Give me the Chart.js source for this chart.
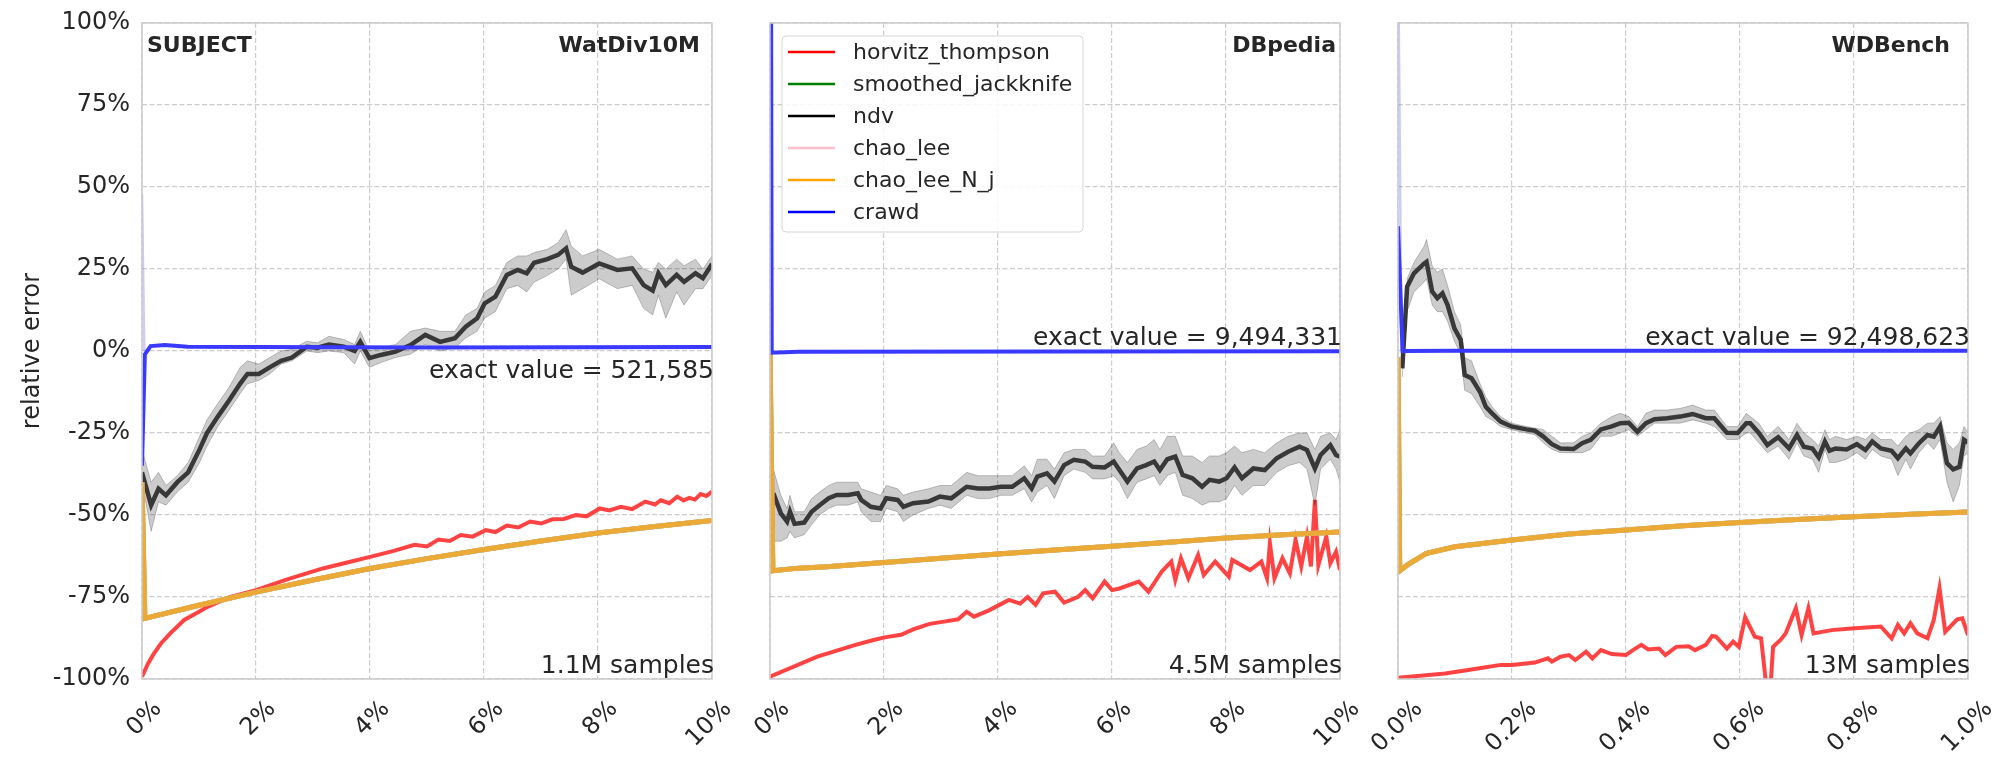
<!DOCTYPE html>
<html>
<head>
<meta charset="utf-8">
<script src="https://cdn.jsdelivr.net/npm/chart.js@4.4.1/dist/chart.umd.min.js"></script>
<style>
  html, body { margin: 0; padding: 0; background: #fff; }
  #wrap { position: relative; width: 2010px; height: 780px; }
  #wrap canvas { position: absolute; left: 0; top: 0; }
</style>
</head>
<body>
<div id="wrap">
  <canvas id="c1" width="2010" height="780"></canvas>
  <canvas id="c2" width="2010" height="780"></canvas>
  <canvas id="c3" width="2010" height="780"></canvas>
</div>
<script>
'use strict';

/* ---- series names (legend order) ---- */
const seriesNames = ['horvitz_thompson', 'smoothed_jackknife', 'ndv', 'chao_lee', 'chao_lee_N_j', 'crawd'];
const legendColors = ['#ff0000', '#008000', '#000000', '#ffc0cb', '#ffa500', '#0000ff'];

/* ---- y axis ---- */
const yTicks = [-100, -75, -50, -25, 0, 25, 50, 75, 100];

/* ---- panel 1: WatDiv10M (x in % of sample) ---- */
const w1NdvX = [0,0.16,0.29,0.42,0.62,0.81,1.01,1.14,1.33,1.53,1.72,1.85,2.05,2.24,2.44,2.63,2.89,3.08,3.28,3.54,3.73,3.83,3.99,4.19,4.45,4.71,4.97,5.23,5.49,5.68,5.88,6.01,6.2,6.4,6.59,6.75,6.88,7.11,7.3,7.44,7.53,7.73,8.02,8.34,8.6,8.8,8.96,9.06,9.19,9.38,9.51,9.71,9.84,10];
const w1Ndv   = [-37,-47,-42,-44,-40,-37,-30,-25,-20,-15,-10,-7,-7,-5,-3,-2,1.3,1,2,1.3,0,2.8,-2.2,-1.2,-0.2,1.8,4.9,2.8,3.9,7.4,10,14.5,16.6,23.2,24.7,23.7,26.9,28,29.3,31.3,25.7,23.9,26.7,24.7,25.2,20.1,18.4,23.7,20.1,23.2,21.1,23.7,22.2,26.5];
const w1NdvLo = [-40,-55,-46,-47,-43,-40,-34,-29,-23,-18,-13,-10,-9,-7,-4,-3,0,-0.5,0,-0.5,-4,0,-5,-3.5,-2,-1,2,0,1,4,6,10,12,19,20,18,21,23,25,28,17,19,22,19,20,13,11,17,10,18,14,19,19,23];
const w1NdvHi = [-30,-40,-37,-41,-38,-34,-26,-21,-16,-11,-5,-3,-4,-2,0,0.5,3,2.5,4.5,3.5,2,6,0,1,2,6,7,6,6,11,13,18,20,27,29,29,30,31,33,37,32,29,31,28,29,25,24,27,25,28,26,28,25,29];
const w1HtX = [0,0.1,0.2,0.34,0.5,0.74,1.0,1.15,1.55,2.0,2.52,3.17,3.6,4.02,4.4,4.78,5.0,5.2,5.4,5.59,5.8,6.03,6.2,6.4,6.6,6.81,7.0,7.2,7.4,7.61,7.8,8.03,8.2,8.4,8.6,8.83,9.0,9.1,9.25,9.39,9.5,9.6,9.7,9.8,9.9,10];
const w1Ht  = [-99.3,-95.5,-92.5,-89,-86,-82,-79.5,-78,-75,-72.9,-69.8,-66.3,-64.5,-62.7,-61,-59.1,-59.6,-57.5,-57.9,-56.1,-56.6,-54.6,-55.2,-53.2,-53.8,-52,-52.6,-51.3,-51.2,-50,-50.4,-48,-48.6,-47.5,-48.2,-45.9,-46.8,-45.5,-46.4,-44.4,-45.6,-44.8,-45.3,-43.6,-44.2,-42.9];
const w1ClX = [0,0.05,1,2,3,4,5,6,7,8,9,10];
const w1Cl  = [-40,-81.5,-77.5,-73.5,-69.8,-66.3,-63.3,-60.5,-57.9,-55.5,-53.5,-51.7];
const w1CrX = [0,0.05,0.15,0.4,0.8,2,5,10];
const w1Cr  = [-35,-1,1.5,1.8,1.3,1.2,1.1,1.2];
const w1CrBandX = [0,0.04];
const w1CrBand  = [48,0];

/* ---- panel 2: DBpedia ---- */
const d2NdvX = [0.06,0.19,0.3,0.35,0.43,0.6,0.73,0.87,1.03,1.17,1.37,1.54,1.6,1.77,1.94,2.04,2.24,2.34,2.51,2.78,2.98,3.18,3.45,3.65,3.85,4.05,4.25,4.46,4.59,4.69,4.86,4.99,5.16,5.33,5.53,5.66,5.87,6.03,6.13,6.27,6.44,6.6,6.74,6.84,6.97,7.11,7.24,7.41,7.58,7.71,7.88,8.01,8.15,8.28,8.48,8.68,8.89,9.09,9.29,9.42,9.56,9.66,9.83,9.93,10];
const d2Ndv   = [-43.4,-49.5,-52,-49,-52.7,-52.3,-49,-47,-44.9,-43.9,-43.9,-43.4,-45.4,-47.5,-48,-44.9,-45.4,-47.5,-46.4,-45.9,-44.4,-44.9,-41.4,-41.9,-41.9,-41.4,-41.4,-38.8,-41.9,-38.3,-37.3,-39.8,-34.8,-33.2,-33.7,-35.3,-35.5,-33.7,-36.3,-39.8,-35.8,-34.8,-33.7,-36.3,-33,-32.2,-37.8,-38.8,-41.4,-39.3,-39.8,-38.8,-35.5,-38.8,-35.8,-36.3,-32.7,-30.7,-29.2,-30.2,-35.8,-31.7,-28.7,-31.7,-32.2];
const d2NdvLo = [-58,-58,-57,-55,-57,-56,-53,-50,-48,-47,-47,-46,-49,-52,-52,-48,-49,-52,-50,-48,-47,-48,-44,-45,-45,-44,-44,-42,-46,-43,-41,-45,-38,-36,-37,-39,-39,-38,-40,-45,-40,-39,-38,-41,-38,-37,-44,-45,-47,-46,-46,-45,-41,-44,-41,-41,-37,-35,-34,-36,-47,-36,-33,-36,-40];
const d2NdvHi = [-36,-44,-48,-44,-49,-49,-45,-43,-41,-40,-40,-40,-42,-43,-44,-41,-42,-44,-43,-42,-41,-41,-37,-38,-38,-38,-38,-35,-38,-33,-33,-36,-31,-30,-30,-32,-32,-28,-31,-34,-30,-29,-27,-30,-26,-26,-32,-32,-34,-32,-32,-31,-29,-31,-30,-31,-28,-26,-25,-25,-30,-26,-25,-27,-24];
const d2HtX = [0,0.83,1.2,1.5,1.8,2.01,2.3,2.51,2.8,3.05,3.3,3.45,3.58,3.85,4.19,4.39,4.52,4.66,4.79,5.0,5.16,5.4,5.53,5.66,5.87,6.0,6.13,6.47,6.64,6.87,7.04,7.11,7.21,7.34,7.51,7.61,7.81,8.05,8.11,8.42,8.62,8.72,8.77,8.85,8.99,9.12,9.22,9.32,9.42,9.49,9.56,9.62,9.76,9.83,9.93,10];
const d2Ht  = [-99.3,-93.2,-91.2,-89.6,-88.2,-87.3,-86.5,-84.9,-83.2,-82.5,-81.8,-79.5,-81,-79,-75.9,-77,-75,-77.4,-73.9,-73.4,-76.7,-75,-72.9,-75.4,-70.3,-72.9,-72.4,-70.3,-73.4,-67.3,-64.2,-69.8,-63.2,-69.3,-62.2,-68.3,-64.2,-68.8,-63.7,-66.8,-64.2,-69.3,-58.6,-69.3,-63.2,-67.8,-57.6,-65.7,-56.6,-65.7,-45.4,-65.3,-56.6,-64.7,-61.2,-66.8];
const d2ClX = [0,0.05,0.5,1,2,3,4,5,6,7,8,9,10];
const d2Cl  = [0,-67,-66.2,-65.8,-64.5,-63.2,-61.9,-60.7,-59.5,-58.3,-57,-56,-55.2];
const d2CrX = [0,0.03,0.5,10];
const d2Cr  = [300,-0.5,-0.2,-0.1];
const d2CrBandX = [0,0.03];
const d2CrBand  = [300,0];

/* ---- panel 3: WDBench ---- */
const w3NdvX = [0.0075,0.016,0.028,0.046,0.05,0.06,0.069,0.078,0.087,0.099,0.11,0.117,0.129,0.144,0.154,0.165,0.18,0.199,0.225,0.24,0.255,0.27,0.285,0.308,0.323,0.338,0.356,0.375,0.39,0.405,0.42,0.435,0.45,0.472,0.495,0.517,0.54,0.555,0.577,0.596,0.611,0.618,0.633,0.648,0.667,0.686,0.7,0.712,0.727,0.738,0.749,0.757,0.768,0.787,0.805,0.82,0.832,0.847,0.866,0.877,0.891,0.899,0.914,0.929,0.94,0.951,0.963,0.974,0.985,0.993,1.0];
const w3Ndv   = [-5.3,19.6,23.7,26.7,27.2,18.1,16.1,17.6,14,6.9,3.4,-7.3,-8.3,-12.5,-17,-19,-21.5,-23,-23.9,-24.3,-26.1,-28.4,-29.7,-29.9,-28.1,-27.1,-23.9,-23,-22,-21.9,-24.6,-22,-20.8,-20.5,-20,-19.2,-20.5,-20.5,-24.9,-25,-22,-22,-25,-28.7,-26.3,-29.7,-25.6,-29.2,-29.7,-32.4,-27.6,-30.4,-29.7,-30,-28.4,-30.2,-27.6,-29.7,-30.4,-32.7,-29.7,-31.2,-28.1,-25.6,-26.1,-23,-34.2,-36.1,-35.3,-27.1,-27.9];
const w3NdvLo = [-8,12,18,21,22,14,12,12,9,3,-1,-12,-13,-17,-20,-21,-23,-24,-25,-25.5,-28,-30,-31,-31,-31,-30,-26,-26,-25,-24,-26,-24,-22,-22,-22,-21,-22,-23,-27,-27,-25,-25,-28,-31,-29,-33,-28,-32,-33,-37,-30,-34,-34,-33,-31,-33,-30,-32,-33,-38,-33,-36,-31,-28,-30,-27,-40,-46,-41,-32,-31];
const w3NdvHi = [-2,22,27,32,34,26,24,25,20,12,8,-2,-3,-10,-14,-17,-20,-22,-23,-23.5,-24,-26,-28,-28,-26,-25,-22,-20,-19,-20,-23,-19,-18,-18,-17.5,-16.5,-18,-18,-23,-23,-19,-20,-22,-26,-23,-27,-22,-25,-27,-29,-24,-27,-26,-27,-26,-27,-25,-27,-27,-29,-26,-25,-24,-22,-22,-20,-28,-30,-28,-23,-25];
const w3HtX = [0,0.083,0.143,0.18,0.2,0.24,0.263,0.27,0.285,0.3,0.311,0.33,0.341,0.356,0.375,0.4,0.412,0.427,0.439,0.458,0.469,0.488,0.51,0.521,0.54,0.551,0.558,0.577,0.588,0.598,0.609,0.626,0.637,0.645,0.65,0.658,0.671,0.68,0.698,0.708,0.72,0.729,0.761,0.795,0.847,0.866,0.877,0.888,0.899,0.911,0.929,0.94,0.95,0.96,0.981,0.99,1.0];
const w3Ht  = [-99.6,-98.3,-96.7,-95.7,-95.7,-95,-93.7,-94.7,-93.2,-92.7,-94.2,-91.7,-93.7,-91.2,-92.4,-92.7,-91.2,-89.6,-91,-90.7,-92.7,-90.2,-90,-91.2,-89.6,-86.9,-87.1,-90.7,-88.6,-90.2,-81.2,-87.1,-87.6,-100.3,-112,-90.2,-88.1,-86.1,-78.4,-86.6,-78.4,-86.1,-85.1,-84.6,-84,-87.6,-83.5,-86.1,-83,-86.1,-87.6,-82,-72.3,-85.6,-81.8,-81.5,-86.6];
const w3ClX = [0,0.003,0.02,0.05,0.1,0.2,0.3,0.4,0.5,0.6,0.7,0.8,0.9,1.0];
const w3Cl  = [-2,-67,-64.8,-61.7,-59.7,-57.6,-55.8,-54.6,-53.3,-52.3,-51.4,-50.5,-49.8,-49.1];
const w3CrX = [0,0.008,0.1,1.0];
const w3Cr  = [38,0,0.1,0.1];
const w3CrBandX = [0,0.006];
const w3CrBand  = [130,0];

/* ---- panel texts ---- */
const cornerLabels  = ['SUBJECT', '', ''];
const datasetLabels = ['WatDiv10M', 'DBpedia', 'WDBench'];
const exactLabels   = ['exact value = 521,585', 'exact value = 9,494,331', 'exact value = 92,498,623'];
const sampleLabels  = ['1.1M samples', '4.5M samples', '13M samples'];

const ink = '#262626';
const gridInk = '#cccccc';
const FONT = '"DejaVu Sans", sans-serif';

Chart.defaults.font.family = FONT;
Chart.defaults.color = ink;

const pts = (xs, ys) => xs.map((x, i) => ({ x, y: ys[i] }));

function lineSet(label, xs, ys, color, width, order) {
    return { label, data: pts(xs, ys), borderColor: color, borderWidth: width,
             pointRadius: 0, tension: 0, fill: false, order };
}

// titles, annotations and frame
const panelText = {
    id: 'panelText',
    afterDatasetsDraw(chart, args, o) {
        const { ctx, chartArea: a } = chart;
        const y0 = chart.scales.y.getPixelForValue(0);
        ctx.save();
        ctx.strokeStyle = gridInk;
        ctx.lineWidth = 1.5;
        ctx.strokeRect(a.left, a.top, a.width, a.height);
        ctx.fillStyle = ink;
        ctx.textBaseline = 'alphabetic';
        ctx.font = 'bold 22px ' + FONT;
        if (o.corner) {
            ctx.textAlign = 'left';
            ctx.fillText(o.corner, a.left + 5, a.top + 29);
        }
        ctx.textAlign = 'right';
        ctx.fillText(o.name, a.right - o.nameInset, a.top + 29);
        ctx.font = '25px ' + FONT;
        ctx.fillText(o.exact, a.right + 2, y0 + o.exactShift);
        ctx.fillText(o.samples, a.right + 2, a.bottom - 6);
        ctx.restore();
    }
};

const legendBox = {
    id: 'legendBox',
    afterDraw(chart, args, o) {
        if (!o.show) return;
        const { ctx, chartArea: a } = chart;
        const x = a.left + 12, y = a.top + 13, w = 301, h = 196;
        ctx.save();
        ctx.beginPath();
        if (ctx.roundRect) ctx.roundRect(x, y, w, h, 4); else ctx.rect(x, y, w, h);
        ctx.fillStyle = 'rgba(255,255,255,0.85)';
        ctx.fill();
        ctx.strokeStyle = '#d6d6d6';
        ctx.lineWidth = 1;
        ctx.stroke();
        ctx.font = '22px ' + FONT;
        ctx.textAlign = 'left';
        ctx.textBaseline = 'middle';
        seriesNames.forEach((name, i) => {
            const ry = y + 16 + 32 * i;
            ctx.strokeStyle = legendColors[i];
            ctx.lineWidth = 2.5;
            ctx.beginPath();
            ctx.moveTo(x + 6, ry);
            ctx.lineTo(x + 53, ry);
            ctx.stroke();
            ctx.fillStyle = ink;
            ctx.fillText(name, x + 71, ry + 1);
        });
        ctx.restore();
    }
};

function makePanel(id, p) {
    const datasets = [
        lineSet('horvitz_thompson', p.htX, p.ht, '#ff4343', 4, 8),
        lineSet('smoothed_jackknife', p.clX, p.cl, '#4c9c3c', 5, 7),
        { label: 'ndv_hi', data: pts(p.ndvX, p.ndvHi), borderColor: 'rgba(0,0,0,0.22)', borderWidth: 1,
          backgroundColor: 'rgba(0,0,0,0.2)', fill: '+1', pointRadius: 0, tension: 0, order: 6 },
        { label: 'ndv_lo', data: pts(p.ndvX, p.ndvLo), borderColor: 'rgba(0,0,0,0.22)', borderWidth: 1,
          fill: false, pointRadius: 0, tension: 0, order: 5 },
        lineSet('ndv', p.ndvX, p.ndv, '#383838', 4.5, 4),
        lineSet('chao_lee', p.clX, p.cl, '#f3b0bb', 5, 3),
        lineSet('chao_lee_N_j', p.clX, p.cl, '#ebaa36', 5, 2),
        lineSet('crawd_band', p.cbX, p.cb, 'rgba(70,70,255,0.28)', 2.5, 1),
        lineSet('crawd', p.crX, p.cr, '#3939ff', 4, 0)
    ];

    return new Chart(document.getElementById(id), {
        type: 'line',
        data: { datasets },
        plugins: [panelText, legendBox],
        options: {
            responsive: false,
            animation: false,
            devicePixelRatio: 1,
            events: [],
            layout: { padding: { left: p.left, right: 2010 - p.right, top: 23, bottom: 0 } },
            plugins: {
                legend: { display: false },
                tooltip: { enabled: false },
                panelText: p.text,
                legendBox: { show: !!p.legend }
            },
            scales: {
                x: {
                    type: 'linear', min: 0, max: p.xMax,
                    ticks: { stepSize: p.xStep, callback: p.xFmt, autoSkip: false,
                             minRotation: 45, maxRotation: 45, padding: 16, labelOffset: p.labelOffset,
                             font: { size: 24 }, color: ink },
                    grid: { color: gridInk, lineWidth: 1.2, drawTicks: false },
                    border: { display: false, dash: [5, 2.5] },
                    afterFit: s => { s.height = 101; s.paddingLeft = 0; s.paddingRight = 0; }
                },
                y: {
                    type: 'linear', min: yTicks[0], max: yTicks[yTicks.length - 1],
                    afterBuildTicks: s => { s.ticks = yTicks.map(v => ({ value: v })); },
                    ticks: { display: p.showY, callback: v => v + '%', padding: 12,
                             font: { size: 24 }, color: ink },
                    grid: { color: gridInk, lineWidth: 1.2, drawTicks: false },
                    border: { display: false, dash: [5, 2.5] },
                    title: { display: p.showY, text: 'relative error', font: { size: 24 }, color: ink,
                             padding: { top: 18, bottom: 0 } },
                    afterFit: s => { s.width = p.yWidth; s.paddingTop = 0; s.paddingBottom = 0; }
                }
            }
        }
    });
}

const pctInt = v => v + '%';
const pctOne = v => v.toFixed(1) + '%';

makePanel('c1', {
    left: 0, right: 712, yWidth: 142, showY: true, xMax: 10, xStep: 2, xFmt: pctInt, labelOffset: 16,
    htX: w1HtX, ht: w1Ht, clX: w1ClX, cl: w1Cl, crX: w1CrX, cr: w1Cr, cbX: w1CrBandX, cb: w1CrBand,
    ndvX: w1NdvX, ndv: w1Ndv, ndvLo: w1NdvLo, ndvHi: w1NdvHi,
    text: { corner: cornerLabels[0], name: datasetLabels[0], nameInset: 12,
            exact: exactLabels[0], exactShift: 27, samples: sampleLabels[0] }
});

makePanel('c2', {
    left: 770, right: 1340, yWidth: 0, showY: false, xMax: 10, xStep: 2, xFmt: pctInt, labelOffset: 16,
    legend: true,
    htX: d2HtX, ht: d2Ht, clX: d2ClX, cl: d2Cl, crX: d2CrX, cr: d2Cr, cbX: d2CrBandX, cb: d2CrBand,
    ndvX: d2NdvX, ndv: d2Ndv, ndvLo: d2NdvLo, ndvHi: d2NdvHi,
    text: { corner: cornerLabels[1], name: datasetLabels[1], nameInset: 4,
            exact: exactLabels[1], exactShift: -6, samples: sampleLabels[1] }
});

makePanel('c3', {
    left: 1398, right: 1968, yWidth: 0, showY: false, xMax: 1, xStep: 0.2, xFmt: pctOne, labelOffset: 21,
    htX: w3HtX, ht: w3Ht, clX: w3ClX, cl: w3Cl, crX: w3CrX, cr: w3Cr, cbX: w3CrBandX, cb: w3CrBand,
    ndvX: w3NdvX, ndv: w3Ndv, ndvLo: w3NdvLo, ndvHi: w3NdvHi,
    text: { corner: cornerLabels[2], name: datasetLabels[2], nameInset: 18,
            exact: exactLabels[2], exactShift: -6, samples: sampleLabels[2] }
});
</script>
</body>
</html>
